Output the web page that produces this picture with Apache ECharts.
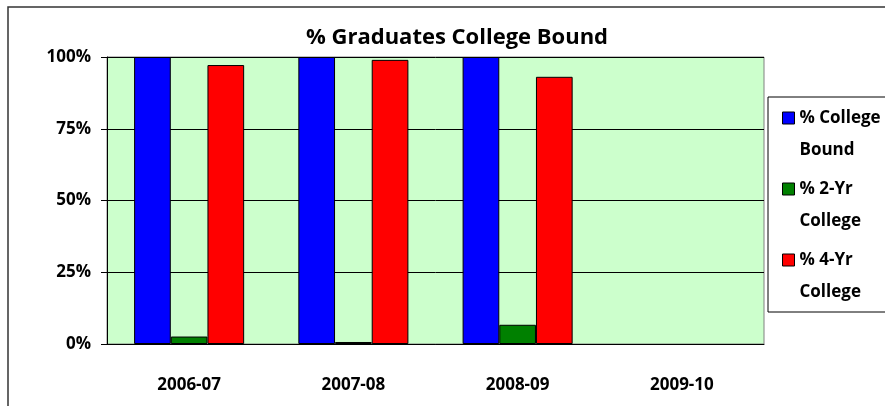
<!DOCTYPE html>
<html>
<head>
<meta charset="utf-8">
<script src="https://cdn.jsdelivr.net/npm/echarts@6/dist/echarts.min.js"></script>
<style>
html,body{margin:0;padding:0;background:#fff;}
#chart{width:885px;height:406px;}
</style>
</head>
<body>
<div id="chart"></div>
<script>
const title = '% Graduates College Bound';
const categories = ['2006-07', '2007-08', '2008-09', '2009-10'];
const seriesNames = ['% College\nBound', '% 2-Yr\nCollege', '% 4-Yr\nCollege'];
const collegeBound = [100, 100, 100, null];
const twoYear = [2.6, 0.7, 6.7, null];
const fourYear = [97.2, 99, 93.1, null];
const yTicks = [0, 25, 50, 75, 100];

const FONT = 'Open Sans';
const colors = ['#0000FF', '#008000', '#FF0000'];
const values = [collegeBound, twoYear, fourYear];

const chart = echarts.init(document.getElementById('chart'), null, {renderer: 'canvas'});
chart.setOption({
  animation: false,
  title: {
    text: title,
    left: 452, top: 22, textAlign: 'center',
    textStyle: {fontFamily: FONT, fontWeight: 'bold', fontSize: 22, color: '#000'}
  },
  legend: {
    orient: 'vertical',
    left: 782, top: 70,
    padding: 0,
    itemWidth: 12, itemHeight: 12,
    itemGap: -25,
    itemStyle: {borderColor: '#000', borderWidth: 1},
    formatter: function (name) { return '\n' + name; },
    textStyle: {fontFamily: FONT, fontWeight: 'bold', fontSize: 17, color: '#000', lineHeight: 32},
    data: seriesNames.map(function (n) { return {name: n, icon: 'rect'}; })
  },
  graphic: [
    {type: 'rect', shape: {x: 8, y: 7, width: 1000, height: 500}, style: {fill: 'none', stroke: '#333', lineWidth: 1.5}, silent: true, z: -10},
    {type: 'rect', shape: {x: 768, y: 97, width: 200, height: 215}, style: {fill: '#fff', stroke: '#000', lineWidth: 1}, silent: true, z: -5}
  ],
  grid: {
    left: 107, right: 121, top: 57, bottom: 62,
    show: true, backgroundColor: '#CCFFCC', borderColor: '#808080', borderWidth: 1
  },
  xAxis: {
    type: 'category',
    data: categories,
    axisLine: {lineStyle: {color: '#000'}},
    axisTick: {length: 8, lineStyle: {color: '#000'}},
    axisLabel: {fontFamily: FONT, fontWeight: 'bold', fontSize: 17, color: '#000', margin: 33}
  },
  yAxis: {
    type: 'value',
    min: 0, max: 100, interval: 25,
    axisLine: {show: true, lineStyle: {color: '#000'}},
    axisTick: {show: true, length: 6, lineStyle: {color: '#000'}},
    splitLine: {lineStyle: {color: '#000', width: 1}},
    axisLabel: {
      fontFamily: FONT, fontWeight: 'bold', fontSize: 17, color: '#000', margin: 16,
      formatter: function (v) { return yTicks.indexOf(v) >= 0 ? v + '%' : ''; }
    }
  },
  series: seriesNames.map(function (n, i) {
    return {
      name: n, type: 'bar',
      data: values[i],
      barGap: 0, barCategoryGap: '33%',
      itemStyle: {color: colors[i], borderColor: '#000', borderWidth: 1}
    };
  })
});
</script>
</body>
</html>
